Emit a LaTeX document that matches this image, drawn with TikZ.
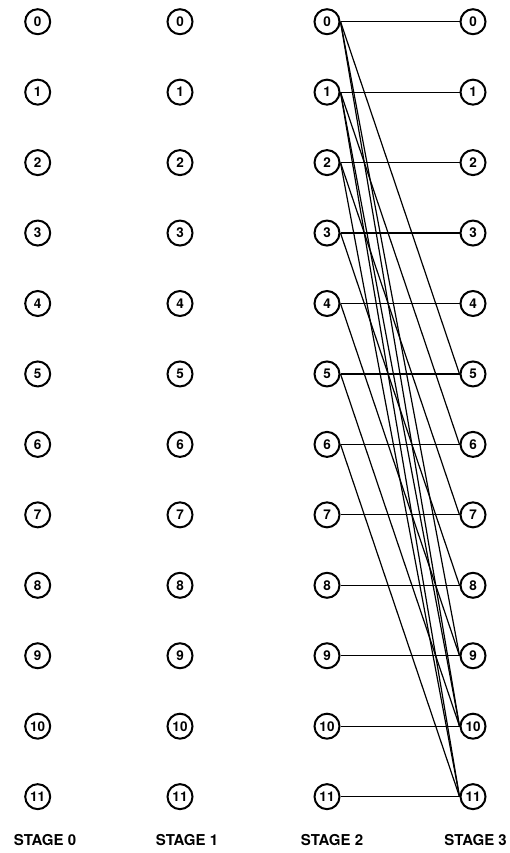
\documentclass[tikz,border=0pt]{standalone}
\usepackage{fontspec}
\setsansfont{TeX Gyre Heros}
\usepackage{tikz}
\usetikzlibrary{positioning}
\tikzset{
  state/.style={circle, draw=black, line width=2pt, fill=white, minimum size=25pt, inner sep=0pt, font=\sffamily\bfseries\fontsize{13.5}{13.5}\selectfont},
  link/.style={draw=black, line width=1.2pt},
  stagelabel/.style={font=\sffamily\bfseries\fontsize{15}{15}\selectfont, inner sep=0pt},
}
\newcommand{\vsep}{70.45}
\newcommand{\ytop}{21.7}
\newcommand{\stage}[2]{%
  \foreach \i in {0,...,11} {%
    \pgfmathsetmacro{\ypos}{\ytop+\i*\vsep}%
    \node[state] (#1-\i) at (#2,\ypos) {\i};%
  }%
}

\begin{document}
\begin{tikzpicture}[x=1pt,y=-1pt]
  \useasboundingbox (0,0) rectangle (509,853);

  \stage{s0}{37.7}
  \stage{s1}{180}
  \stage{s2}{327}
  \stage{s3}{473}

  % --- last stage transitions -----------------------------------------------
  % state i of stage 2 goes on to i, i+5, i+9 or i+10 (as far as 11)
  \foreach \d in {0,5,9,10} {
    \pgfmathtruncatemacro{\last}{11-\d}
    \foreach \i in {0,...,\last} {
      \pgfmathtruncatemacro{\j}{\i+\d}
      \draw[link] (s2-\i.east) -- (s3-\j.west);
    }
  }

  % --- stage labels ----------------------------------------------------------
  \node[stagelabel] (lab0) at (45,840) {STAGE 0};
  \node[stagelabel] (lab1) at (187,840) {STAGE 1};
  \node[stagelabel] (lab2) at (332,840) {STAGE 2};
  \node[stagelabel, anchor=east] (lab3) at (507,840) {STAGE 3};

\end{tikzpicture}
\end{document}
